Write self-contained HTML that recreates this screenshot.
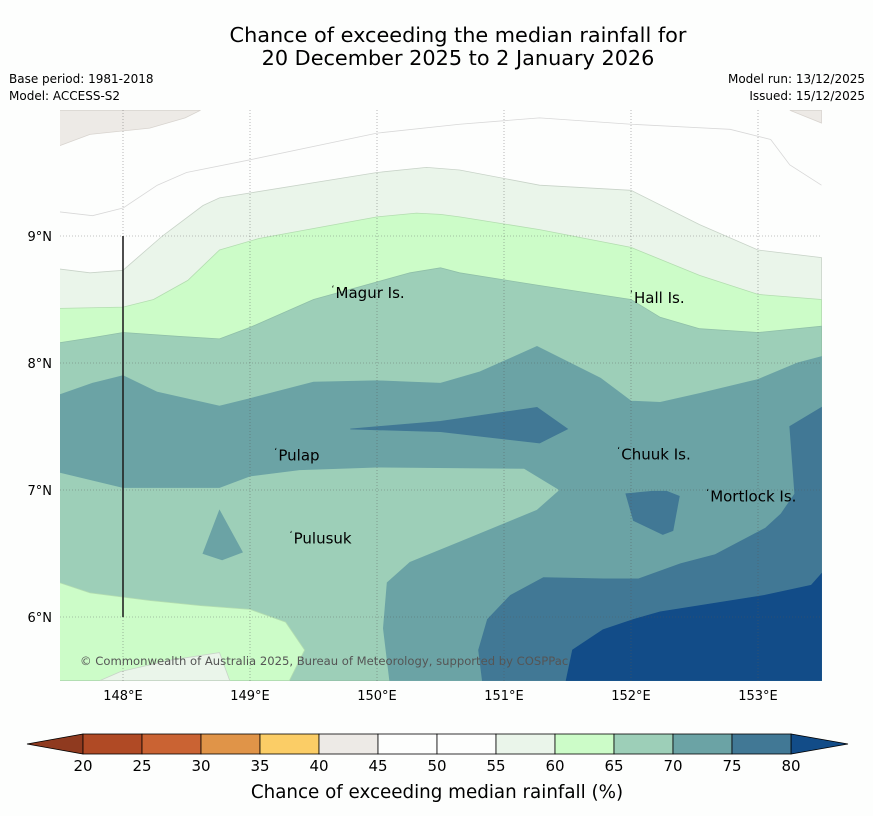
<!DOCTYPE html>
<html><head><meta charset="utf-8"><style>
body{margin:0;background:#fdfefd;font-family:"Liberation Sans","DejaVu Sans",sans-serif;}
#wrap{position:relative;width:873px;height:816px;overflow:hidden;background:#fdfefd}
svg text{font-family:"DejaVu Sans","Liberation Sans",sans-serif}
</style></head><body>
<div id="wrap">
<svg id="svg" width="873" height="816" xmlns="http://www.w3.org/2000/svg">
<text x="458" y="42" text-anchor="middle" font-size="20.8" fill="#000">Chance of exceeding the median rainfall for</text>
<text x="458" y="65" text-anchor="middle" font-size="20.8" fill="#000">20 December 2025 to 2 January 2026</text>
<text x="9" y="83" font-size="12">Base period: 1981-2018</text>
<text x="9" y="100" font-size="12">Model: ACCESS-S2</text>
<text x="865" y="83" font-size="12" text-anchor="end">Model run: 13/12/2025</text>
<text x="865" y="100" font-size="12" text-anchor="end">Issued: 15/12/2025</text>
<defs><clipPath id="mc"><rect x="60" y="110" width="762" height="571"/></clipPath></defs>
<g id="map" clip-path="url(#mc)"></g>
<g id="grid"></g>
<g id="labels"></g>
<g id="axes"></g>
<g id="cbar"></g>
<text x="437" y="798" text-anchor="middle" font-size="18.3">Chance of exceeding median rainfall (%)</text>
</svg></div>
<script>
// map extent
const lonMin=147.5, lonMax=153.5, latMin=5.5, latMax=9.99;
const lonTicks=[148,149,150,151,152,153];
const latTicks=[6,7,8,9];
const cbLevels=[20,25,30,35,40,45,50,55,60,65,70,75,80];
const cbColors=["#b04a25","#ca6333","#e09448","#fbcd66","#edeae6","#fdfefd","#fdfefd","#eaf5ea","#ccfcc8","#9dcfb8","#6ba3a5","#417895"];
// contour regions (lon,lat), drawn in order
const regGrayTL=[[147.5,9.99],[148.61,9.99],[148.49,9.93],[148.21,9.85],[147.74,9.80],[147.5,9.71]];
const regGrayTR=[[153.25,9.99],[153.5,9.99],[153.5,9.89]];
const reg55=[[147.5,8.74],[147.74,8.71],[148.0,8.73],[148.31,9.0],[148.63,9.24],[148.76,9.30],[150.0,9.50],[150.39,9.54],[150.65,9.52],[151.28,9.40],[152.0,9.36],[152.54,9.09],[153.0,8.89],[153.5,8.83],[153.5,5.5],[147.5,5.5]];
const reg60=[[147.5,8.43],[148.0,8.44],[148.24,8.50],[148.51,8.65],[148.76,8.89],[149.07,8.98],[150.0,9.15],[150.31,9.18],[150.50,9.17],[150.65,9.15],[151.28,9.05],[152.0,8.91],[152.54,8.69],[153.0,8.54],[153.5,8.50],[153.5,5.5],[147.5,5.5]];
const reg65=[[147.5,8.16],[147.76,8.20],[148.0,8.24],[148.43,8.21],[148.76,8.19],[149.0,8.28],[149.50,8.50],[150.26,8.71],[150.50,8.75],[150.65,8.71],[151.28,8.61],[152.0,8.50],[152.23,8.36],[152.54,8.27],[153.0,8.24],[153.5,8.29],[153.5,5.5],[147.5,5.5]];
const reg70=[[147.5,7.75],[147.76,7.84],[148.0,7.90],[148.27,7.77],[148.76,7.66],[149.0,7.72],[149.50,7.85],[150.0,7.86],[150.50,7.84],[150.81,7.93],[151.26,8.13],[151.76,7.88],[152.0,7.70],[152.23,7.69],[152.54,7.76],[153.0,7.87],[153.31,8.0],[153.5,8.05],[153.5,5.5],[150.10,5.5],[150.05,5.91],[150.08,6.27],[150.26,6.43],[150.65,6.59],[151.04,6.75],[151.26,6.84],[151.44,7.0],[151.16,7.17],[150.0,7.18],[149.39,7.16],[149.0,7.11],[148.76,7.02],[148.0,7.02],[147.5,7.14]];
const reg60b=[[147.5,6.27],[147.74,6.19],[148.21,6.13],[148.61,6.09],[149.0,6.06],[149.28,5.96],[149.43,5.74],[149.31,5.5],[147.5,5.5]];
const reg55b=[[147.82,5.5],[147.98,5.57],[148.37,5.66],[148.76,5.72],[148.84,5.5]];
const reg70blob=[[148.76,6.84],[148.94,6.51],[148.78,6.45],[148.63,6.50]];
const reg75=[[150.83,5.5],[150.80,5.74],[150.87,5.98],[151.05,6.17],[151.31,6.31],[151.78,6.30],[152.06,6.30],[152.39,6.42],[152.66,6.49],[153.06,6.70],[153.18,6.81],[153.29,6.97],[153.25,7.50],[153.5,7.65],[153.5,5.5]];
const reg75band=[[149.79,7.48],[150.50,7.54],[151.26,7.65],[151.50,7.48],[151.28,7.37],[150.50,7.46]];
const reg75blob=[[151.96,6.97],[152.17,6.99],[152.28,6.99],[152.38,6.95],[152.33,6.68],[152.25,6.65],[152.02,6.76]];
const reg80=[[151.49,5.5],[151.54,5.74],[151.78,5.90],[152.02,5.98],[152.23,6.04],[153.05,6.17],[153.42,6.25],[153.5,6.34],[153.5,5.5]];
const islands=[{name:"Magur Is.",lon:149.65,lat:8.55},{name:"Hall Is.",lon:152.0,lat:8.51},{name:"Pulap",lon:149.2,lat:7.27},{name:"Chuuk Is.",lon:151.9,lat:7.28},{name:"Mortlock Is.",lon:152.6,lat:6.95},{name:"Pulusuk",lon:149.32,lat:6.62}];

const X0=60,X1=822,Y0=110,Y1=681;
const xs=l=>123+(l-148)*127;
const ys=l=>236-(l-9)*127;
const NS="http://www.w3.org/2000/svg";
function mk(tag,attrs,parent){const e=document.createElementNS(NS,tag);for(const k in attrs)e.setAttribute(k,attrs[k]);parent.appendChild(e);return e;}
const map=document.getElementById('map');
const bg=mk('rect',{x:X0,y:Y0,width:X1-X0,height:Y1-Y0,fill:"#fdfefd"},map);


const regions=[[regGrayTL,"#edeae6","#d8d4cf","region-40-45-nw"],[regGrayTR,"#edeae6","#d8d4cf","region-40-45-ne"],[reg55,"#eaf5ea","#c8d3c8","region-55-60"],[reg60,"#ccfcc8","#b3ddb0","region-60-65"],[reg65,"#9dcfb8","#8fbfa8","region-65-70"],[reg70,"#6ba3a5","#6ba3a5","region-70-75"],[reg60b,"#ccfcc8","#b3ddb0","region-60-65-south"],[reg55b,"#eaf5ea","#c8d3c8","region-55-60-south"],[reg70blob,"#6ba3a5","#6ba3a5","region-70-75-blob"],[reg75,"#417895","#417895","region-75-80"],[reg75band,"#417895","#417895","region-75-80-band"],[reg75blob,"#417895","#417895","region-75-80-blob"],[reg80,"#124c88","#124c88","region-80-plus"]];
regions.forEach(r=>{
  const p=mk('polygon',{points:r[0].map(q=>xs(q[0]).toFixed(1)+","+ys(q[1]).toFixed(1)).join(" "),fill:r[1],stroke:r[2],"stroke-width":0.8},map);
  
  
});
// white contour line in white region
const wline=[[147.5,9.19],[147.76,9.16],[148.0,9.22],[148.27,9.40],[148.5,9.50],[149.0,9.60],[150.0,9.81],[150.65,9.88],[151.28,9.93],[152.0,9.88],[152.78,9.84],[153.1,9.76],[153.25,9.56],[153.5,9.40]];
const wl=mk('polyline',{points:wline.map(q=>xs(q[0])+","+ys(q[1])).join(" "),fill:"none",stroke:"#d8d8d8","stroke-width":0.8},map);


// grid
const grid=document.getElementById('grid');
lonTicks.forEach(l=>{const e=mk('line',{x1:xs(l),x2:xs(l),y1:Y0,y2:Y1,stroke:"#555","stroke-width":0.6,"stroke-dasharray":"1,2","opacity":0.7},grid);});
latTicks.forEach(l=>{const e=mk('line',{x1:X0,x2:X1,y1:ys(l),y2:ys(l),stroke:"#555","stroke-width":0.6,"stroke-dasharray":"1,2","opacity":0.7},grid);});
const vl=mk('line',{x1:xs(148),x2:xs(148),y1:ys(9),y2:ys(6),stroke:"#222","stroke-width":1.6},grid);


// labels
const lab=document.getElementById('labels');
islands.forEach(s=>{const t=mk('text',{x:xs(s.lon)+3,y:ys(s.lat)+5,"font-size":15,fill:"#000"},lab);t.textContent=s.name;
 const d=mk('text',{x:xs(s.lon)-1,y:ys(s.lat)-1,"font-size":9,fill:"#000"},lab);d.textContent="ʻ";});
const cp=mk('text',{x:80,y:665,"font-size":11.6,fill:"#555"},lab);cp.textContent="© Commonwealth of Australia 2025, Bureau of Meteorology, supported by COSPPac";


// axes
const ax=document.getElementById('axes');
lonTicks.forEach(l=>{const t=mk('text',{x:xs(l),y:700,"text-anchor":"middle","font-size":13},ax);t.textContent=l+"°E";});
latTicks.forEach(l=>{const t=mk('text',{x:52,y:ys(l)+5,"text-anchor":"end","font-size":13},ax);t.textContent=l+"°N";});
// colorbar
const cb=document.getElementById('cbar');
const cbx=v=>83+(v-20)*(791-83)/60;
const cy0=734,cy1=754;
const lt=mk('polygon',{points:`27,744 ${cbx(20)},${cy0} ${cbx(20)},${cy1}`,fill:"#8f3a1f",stroke:"#000","stroke-width":0.8},cb);


const rt=mk('polygon',{points:`848,744 ${cbx(80)},${cy0} ${cbx(80)},${cy1}`,fill:"#124c88",stroke:"#000","stroke-width":0.8},cb);


cbColors.forEach((c,i)=>{const r=mk('rect',{x:cbx(cbLevels[i]),y:cy0,width:cbx(cbLevels[i+1])-cbx(cbLevels[i]),height:cy1-cy0,fill:c,stroke:"#000","stroke-width":0.8},cb);});
cbLevels.forEach(v=>{const t=mk('text',{x:cbx(v),y:771,"text-anchor":"middle","font-size":15},cb);t.textContent=v;});
</script>
</body></html>
